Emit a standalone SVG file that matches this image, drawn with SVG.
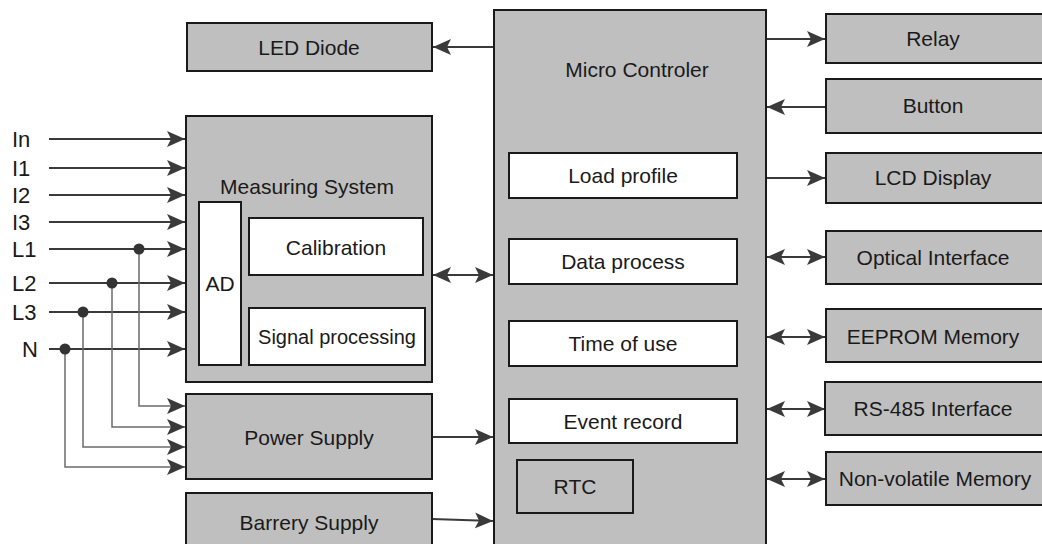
<svg xmlns="http://www.w3.org/2000/svg" width="1042" height="544" viewBox="0 0 1042 544">
<defs>
<marker id="ah" markerUnits="userSpaceOnUse" markerWidth="20" markerHeight="18" refX="18" refY="8" orient="auto-start-reverse">
<path d="M0,0 L18,8 L0,16 L4,8 Z" fill="#3a3a3a"/>
</marker>
<style>
.box{fill:#bfbfbf;stroke:#1a1a1a;stroke-width:2}
.inner{fill:#ffffff;stroke:#1a1a1a;stroke-width:2}
text{font-family:"Liberation Sans",Arial,sans-serif;font-size:21px;fill:#1a1a1a}
.c{text-anchor:middle}
.lbl{font-size:22px}
.sm{font-size:20px}
.ln{stroke:#3a3a3a;stroke-width:2;fill:none}
.thin{stroke:#6b6b6b;stroke-width:1.5;fill:none}
.arr{marker-end:url(#ah)}
.bi{marker-start:url(#ah);marker-end:url(#ah)}
.dot{fill:#333333}
</style>
</defs>
<rect width="1042" height="544" fill="#ffffff"/>

<g id="connectors">
<line class="ln arr" x1="49" y1="139" x2="185" y2="139"/>
<line class="ln arr" x1="49" y1="168" x2="185" y2="168"/>
<line class="ln arr" x1="49" y1="195" x2="185" y2="195"/>
<line class="ln arr" x1="49" y1="222" x2="185" y2="222"/>
<line class="ln arr" x1="49" y1="249" x2="185" y2="249"/>
<line class="ln arr" x1="49" y1="283" x2="185" y2="283"/>
<line class="ln arr" x1="49" y1="312" x2="185" y2="312"/>
<line class="ln arr" x1="49" y1="349" x2="185" y2="349"/>
<polyline class="thin arr" points="139,249 139,406 185,406"/>
<polyline class="thin arr" points="112,283 112,427 185,427"/>
<polyline class="thin arr" points="83,312 83,447 185,447"/>
<polyline class="thin arr" points="65,349 65,467 185,467"/>
<circle class="dot" cx="139" cy="249" r="5.5"/>
<circle class="dot" cx="112" cy="283" r="5.5"/>
<circle class="dot" cx="83" cy="312" r="5.5"/>
<circle class="dot" cx="65" cy="349" r="5.5"/>
<line class="ln arr" x1="494" y1="47" x2="433" y2="47"/>
<line class="ln bi" x1="433" y1="275" x2="493" y2="275"/>
<line class="ln arr" x1="432" y1="437" x2="493" y2="437"/>
<line class="ln arr" x1="432" y1="519" x2="493" y2="521"/>
<line class="ln arr" x1="764" y1="39" x2="825" y2="39"/>
<line class="ln arr" x1="826" y1="107" x2="767" y2="107"/>
<line class="ln arr" x1="764" y1="178" x2="825" y2="178"/>
<line class="ln bi" x1="767" y1="257" x2="825" y2="257"/>
<line class="ln bi" x1="767" y1="337" x2="825" y2="337"/>
<line class="ln bi" x1="767" y1="409" x2="825" y2="409"/>
<line class="ln bi" x1="767" y1="479" x2="825" y2="479"/>
</g>

<g id="input-labels">
<text class="lbl" x="12" y="147">In</text>
<text class="lbl" x="12" y="176">I1</text>
<text class="lbl" x="12" y="203">I2</text>
<text class="lbl" x="12" y="230">I3</text>
<text class="lbl" x="12" y="257">L1</text>
<text class="lbl" x="12" y="291">L2</text>
<text class="lbl" x="12" y="320">L3</text>
<text class="lbl" x="22" y="357">N</text>
</g>

<g id="led-diode">
<rect class="box" x="187" y="23" width="245" height="48"/>
<text class="c" x="309" y="55">LED Diode</text>
</g>

<g id="measuring-system">
<rect class="box" x="186" y="116" width="246" height="266"/>
<text class="c" x="307" y="194">Measuring System</text>
<g id="ad">
<rect class="inner" x="199" y="202" width="42" height="163"/>
<text class="c" x="220" y="291">AD</text>
</g>
<g id="calibration">
<rect class="inner" x="249" y="218" width="174" height="57"/>
<text class="c" x="336" y="255">Calibration</text>
</g>
<g id="signal-processing">
<rect class="inner" x="249" y="308" width="176" height="57"/>
<text class="c sm" x="337" y="344">Signal processing</text>
</g>
</g>

<g id="power-supply">
<rect class="box" x="186" y="394" width="246" height="85"/>
<text class="c" x="309" y="445">Power Supply</text>
</g>

<g id="barrery-supply">
<rect class="box" x="186" y="493" width="246" height="60"/>
<text class="c" x="309" y="530">Barrery Supply</text>
</g>

<g id="micro-controler">
<rect class="box" x="494" y="10" width="272" height="545"/>
<text class="c" x="637" y="77">Micro Controler</text>
<g id="load-profile">
<rect class="inner" x="509" y="153" width="228" height="45"/>
<text class="c" x="623" y="183">Load profile</text>
</g>
<g id="data-process">
<rect class="inner" x="509" y="239" width="228" height="45"/>
<text class="c" x="623" y="269">Data process</text>
</g>
<g id="time-of-use">
<rect class="inner" x="509" y="321" width="228" height="45"/>
<text class="c" x="623" y="351">Time of use</text>
</g>
<g id="event-record">
<rect class="inner" x="509" y="399" width="228" height="44"/>
<text class="c" x="623" y="429">Event record</text>
</g>
<g id="rtc">
<rect class="box" x="517" y="460" width="116" height="53"/>
<text class="c" x="575" y="494">RTC</text>
</g>
</g>

<g id="relay">
<rect class="box" x="826" y="14" width="230" height="49"/>
<text class="c" x="933" y="46">Relay</text>
</g>
<g id="button">
<rect class="box" x="826" y="79" width="230" height="54"/>
<text class="c" x="933" y="113">Button</text>
</g>
<g id="lcd-display">
<rect class="box" x="826" y="153" width="230" height="50"/>
<text class="c" x="933" y="185">LCD Display</text>
</g>
<g id="optical-interface">
<rect class="box" x="826" y="231" width="230" height="53"/>
<text class="c" x="933" y="265">Optical Interface</text>
</g>
<g id="eeprom-memory">
<rect class="box" x="826" y="309" width="230" height="53"/>
<text class="c" x="933" y="344">EEPROM Memory</text>
</g>
<g id="rs485-interface">
<rect class="box" x="825" y="382" width="230" height="53"/>
<text class="c" x="933" y="416">RS-485 Interface</text>
</g>
<g id="non-volatile-memory">
<rect class="box" x="826" y="452" width="230" height="53"/>
<text class="c" x="935" y="486">Non-volatile Memory</text>
</g>
</svg>
